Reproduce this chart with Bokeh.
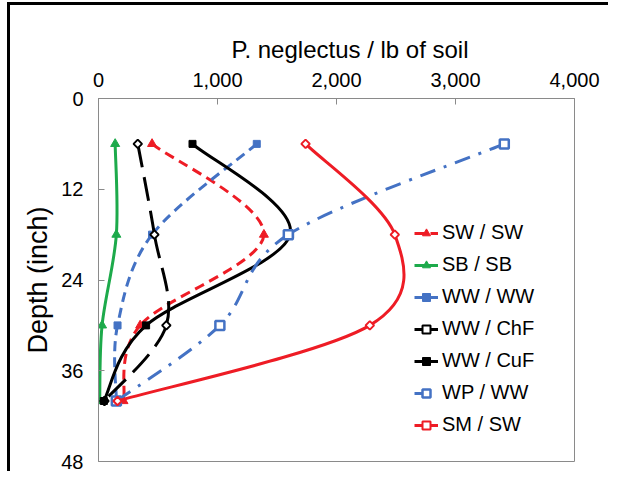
import math
from bokeh.plotting import figure
from bokeh.models import (Range1d, FixedTicker, NumeralTickFormatter, Legend,
                          LegendItem, ColumnDataSource)
from bokeh.embed import file_html
from bokeh.resources import INLINE

# ---------------- data ----------------
depth = [6, 18, 30, 40]
series_names = ["SW / SW", "SB / SB", "WW / WW", "WW / ChF", "WW / CuF", "WP / WW", "SM / SW"]
sw_sw = [450, 1390, 350, 210]
sb_sb = [140, 150, 30, 10]
ww_ww = [1330, 450, 160, 150]
ww_chf = [330, 470, 570, 50]
ww_cuf = [790, 1610, 400, 45]
wp_ww = [3410, 1595, 1020, 150]
sm_sw = [1740, 2490, 2280, 160]
x_ticks = [0, 1000, 2000, 3000, 4000]
y_ticks = [0, 12, 24, 36, 48]
x_title = "P. neglectus / lb of soil"
y_title = "Depth (inch)"

series_values = [sw_sw, sb_sb, ww_ww, ww_chf, ww_cuf, wp_ww, sm_sw]

# ---------------- styles ----------------
RED = "#EE1C25"
GREEN = "#1DAA4B"
BLUE = "#4472C4"
FONT = "Liberation Sans"
GREY = "#8a8a8a"

styles = [
    dict(color=RED, dash="10 6", marker="triangle", fill=RED, size=9, angle=0.0, lw=1),
    dict(color=GREEN, dash="solid", marker="triangle", fill=GREEN, size=9, angle=0.0, lw=1),
    dict(color=BLUE, dash="10 6", marker="square", fill=BLUE, size=7, angle=0.0, lw=1),
    dict(color="black", dash="24 10", marker="square", fill="white", size=6, angle=math.pi / 4, lw=2),
    dict(color="black", dash="solid", marker="square", fill="black", size=7, angle=0.0, lw=1),
    dict(color=BLUE, dash="16 9 3 9", marker="square", fill="white", size=9, angle=0.0, lw=2.5),
    dict(color=RED, dash="solid", marker="square", fill="white", size=6, angle=math.pi / 4, lw=2),
]


def smooth_segments(xs, ys):
    """Catmull-Rom style bezier control points (like a spreadsheet's smoothed line)."""
    pts = list(zip(xs, ys))
    n = len(pts)
    d = dict(x0=[], y0=[], x1=[], y1=[], cx0=[], cy0=[], cx1=[], cy1=[])
    for i in range(n - 1):
        p0 = pts[i - 1] if i > 0 else pts[i]
        p1 = pts[i]
        p2 = pts[i + 1]
        p3 = pts[i + 2] if i + 2 < n else pts[i + 1]
        d["x0"].append(p1[0]); d["y0"].append(p1[1])
        d["x1"].append(p2[0]); d["y1"].append(p2[1])
        d["cx0"].append(p1[0] + (p2[0] - p0[0]) / 6.0)
        d["cy0"].append(p1[1] + (p2[1] - p0[1]) / 6.0)
        d["cx1"].append(p2[0] - (p3[0] - p1[0]) / 6.0)
        d["cy1"].append(p2[1] - (p3[1] - p1[1]) / 6.0)
    return d


p = figure(width=608, height=471, output_backend="svg", toolbar_location=None,
           x_axis_location="above",
           x_range=Range1d(0, 4000), y_range=Range1d(48, 0),
           min_border_left=98, min_border_top=98, min_border_right=34, min_border_bottom=10)
p.styles = {
    "background-image": "linear-gradient(black, black), linear-gradient(black, black)",
    "background-size": "3px 100%, 100% 3px",
    "background-position": "7px 2px, 7px 2px",
    "background-repeat": "no-repeat",
}

p.xgrid.visible = False
p.ygrid.visible = False
p.outline_line_color = GREY
p.outline_line_width = 1
p.background_fill_color = "white"
p.border_fill_color = None

# x axis title (as the plot title, placed above the top axis)
p.title.text = x_title
p.title.align = "left"
p.title.offset = 133
p.title.text_font = FONT
p.title.text_font_size = "24px"
p.title.text_font_style = "normal"
p.title.text_color = "black"
p.title.standoff = 14

for ax in (p.xaxis[0], p.yaxis[0]):
    ax.axis_line_color = GREY
    ax.major_tick_line_color = GREY
    ax.minor_tick_line_color = None
    ax.major_tick_in = 6
    ax.major_tick_out = 0
    ax.major_label_text_font = FONT
    ax.major_label_text_font_size = "20px"
    ax.major_label_text_color = "black"

p.xaxis.ticker = FixedTicker(ticks=x_ticks)
p.xaxis.formatter = NumeralTickFormatter(format="0,0")
p.xaxis.major_label_standoff = 12
p.yaxis.ticker = FixedTicker(ticks=y_ticks)
p.yaxis.major_label_standoff = 15
p.yaxis.axis_label = y_title
p.yaxis.axis_label_text_font = FONT
p.yaxis.axis_label_text_font_size = "27px"
p.yaxis.axis_label_text_font_style = "normal"
p.yaxis.axis_label_text_color = "black"
p.yaxis.axis_label_standoff = 5

items = []
for name, vals, st in zip(series_names, series_values, styles):
    seg = ColumnDataSource(smooth_segments(vals, depth))
    bz = p.bezier(x0="x0", y0="y0", x1="x1", y1="y1", cx0="cx0", cy0="cy0",
                  cx1="cx1", cy1="cy1", source=seg,
                  line_color=st["color"], line_width=3, line_dash=st["dash"])
    sc = p.scatter(x=vals, y=depth, marker=st["marker"], size=st["size"],
                   angle=st["angle"], fill_color=st["fill"],
                   line_color=st["color"], line_width=st["lw"])
    items.append(LegendItem(label=name, renderers=[bz, sc]))

legend = Legend(items=items, location=(316, 25))
legend.background_fill_alpha = 0
legend.border_line_alpha = 0
legend.padding = 0
legend.margin = 0
legend.spacing = 9
legend.glyph_width = 24
legend.glyph_height = 20
legend.label_height = 20
legend.label_standoff = 4
legend.label_text_font = FONT
legend.label_text_font_size = "20px"
legend.label_text_color = "black"
p.add_layout(legend)

open("out.html", "w").write(file_html(p, INLINE))
